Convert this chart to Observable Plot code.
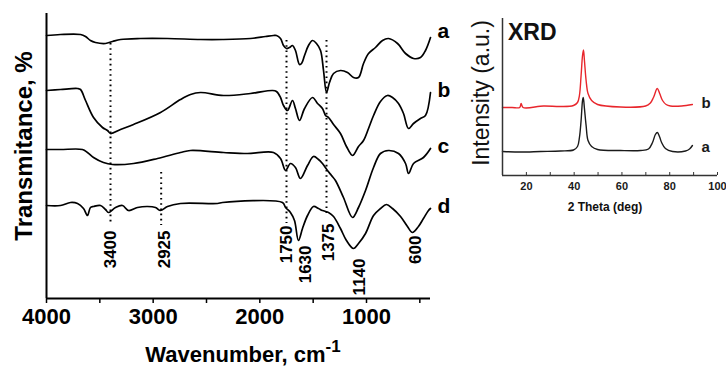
<!DOCTYPE html>
<html><head><meta charset="utf-8">
<script src="https://cdn.jsdelivr.net/npm/d3@7"></script>
<script src="https://cdn.jsdelivr.net/npm/@observablehq/plot@0.6"></script>
<style>
html,body{margin:0;padding:0;background:#fff;}
#wrap{position:relative;width:726px;height:366px;overflow:hidden;font-family:"Liberation Sans",Arial,sans-serif;}
#main{position:absolute;left:0;top:0;width:470px;height:366px;}
#inset{position:absolute;left:460px;top:0;width:266px;height:220px;}
svg{overflow:visible;}
</style></head><body><div id="wrap"><div id="main"></div><div id="inset"></div></div>
<script>
const FONT = "Liberation Sans, Arial, Helvetica, sans-serif";

// ---- FTIR spectra: [wavenumber cm-1, transmittance (arb., offset)] ----
const specA = [[4000,263],[3869,264],[3681,264],[3634,262],[3588,258],[3541,256],[3447,255],[3381,257],[3306,259],[3119,260],[2866,260],[2556,259],[2350,259],[2088,260],[1947,262],[1872,263],[1844,263],[1806,260],[1778,253],[1750,250],[1722,251],[1694,253],[1666,248],[1628,234],[1609,235],[1581,243],[1544,253],[1506,258],[1469,255],[1431,248],[1403,228],[1375,206],[1347,216],[1309,225],[1244,228],[1178,226],[1122,221],[1075,221],[1028,235],[981,245],[916,251],[850,258],[794,260],[709,255],[634,245],[559,240],[494,241],[447,248],[400,261]];
const specB = [[4000,208],[3869,209],[3709,210],[3681,209],[3634,198],[3559,181],[3475,171],[3428,168],[3400,165],[3306,169],[3184,174],[2931,186],[2744,199],[2650,204],[2556,206],[2341,203],[2088,205],[1881,208],[1844,207],[1806,201],[1778,193],[1741,188],[1694,198],[1666,190],[1628,178],[1581,190],[1506,201],[1459,195],[1413,190],[1384,183],[1356,181],[1309,174],[1244,165],[1188,152],[1131,143],[1075,152],[1028,158],[981,170],[934,183],[869,197],[803,203],[756,201],[700,195],[653,185],[606,170],[559,175],[494,180],[447,183],[400,206]];
const specC = [[4000,149],[3869,149],[3663,149],[3616,146],[3559,141],[3466,136],[3381,134],[3184,135],[2959,140],[2744,146],[2650,148],[2341,146],[2116,145],[1872,146],[1806,140],[1759,128],[1713,135],[1666,131],[1619,120],[1553,133],[1497,142],[1450,139],[1413,135],[1366,128],[1328,123],[1291,118],[1216,101],[1131,81],[1075,91],[1009,108],[934,131],[869,145],[794,148],[700,145],[634,135],[606,125],[559,135],[466,141],[400,150]];
const specD = [[4000,93],[3869,93],[3775,96],[3709,95],[3653,90],[3616,83],[3588,91],[3559,92],[3494,93],[3447,89],[3419,86],[3353,91],[3288,93],[3231,88],[3147,91],[3053,92],[2978,91],[2931,88],[2866,92],[2744,95],[2397,95],[2350,96],[1788,96],[1759,91],[1713,86],[1675,78],[1638,58],[1600,70],[1553,83],[1497,92],[1450,90],[1413,88],[1356,86],[1309,82],[1244,70],[1188,58],[1122,50],[1075,55],[1009,65],[934,83],[869,90],[813,94],[756,90],[681,82],[616,72],[569,66],[513,72],[466,80],[419,88],[400,90]];
const seriesNames = ["a","b","c","d"];
const letterY = [267, 208, 152, 92];

// marked bands (dotted guides)
const markWn = [3400, 2925, 1750, 1375];
const markTop = [255, 126, 258, 258];
const markBottom = [73, 73, 75, 85];

// band labels: text, drawn position (cm-1), top of label
const bandText = ["3400","2925","1750","1630","1375","1140","600"];
const bandPos  = [3400, 2894, 1750, 1572, 1356, 1066, 541];
const bandTop  = [68, 68, 73, 53, 75, 40, 63];

const xTicks = d3.range(500, 4001, 500);

// ---- XRD inset: [2theta deg, intensity (arb.)] ----
const xrdA = [[10,24],[17.5,23.5],[25.9,24],[34.3,24.5],[39.7,25.5],[41.4,29],[42.2,38],[42.9,55],[43.5,75],[43.8,78],[44.3,67],[45.0,50],[45.8,35],[47.3,29],[49.8,26],[59.4,25],[67.8,25],[71.1,26.5],[72.8,33],[74.0,41],[74.8,43],[75.7,39],[76.6,33],[78.2,27],[81.2,24],[86.6,24.5],[88.3,26.5],[89.5,30]];
const xrdB = [[10,68],[14,68],[17.2,68],[17.8,72],[18.6,68],[27.2,69.5],[34.3,69],[39.7,70],[41.4,73],[42.2,80],[42.9,100],[43.5,120],[43.9,125.5],[44.3,115],[45.0,95],[45.8,82],[47.3,75],[49.8,71],[59.4,68.5],[69.9,69.5],[71.9,72.5],[73.2,78],[74.8,87],[75.8,82],[77,75],[78.5,71],[80.3,69.5],[85,69.5],[89.5,71]];
const xrdNames = ["a","b"];
const xrdLetterY = [28, 72];
const xrdTicks = d3.range(10, 101, 10);
const xrdLabelTicks = [20, 40, 60, 80, 100];

// ---- build rows ----
const specs = [specA, specB, specC, specD];
const ftirRows = specs.flatMap((s, k) => s.map(([wn, t]) => ({wn, t, name: seriesNames[k]})));
const markRows = markWn.map((wn, i) => ({wn, y1: markTop[i], y2: markBottom[i]}));
const bandRows = bandText.map((text, i) => ({text, pos: bandPos[i], top: bandTop[i]}));
const letterRows = seriesNames.map((name, i) => ({name, wn: 400, t: letterY[i]}));

const main = Plot.plot({
  width: 470, height: 366,
  marginLeft: 46, marginRight: 40, marginTop: 13, marginBottom: 68,
  x: {domain: [4000, 400]},
  y: {domain: [0, 285], axis: null},
  style: {fontFamily: FONT, background: "white", overflow: "visible"},
  marks: [
    Plot.ruleX(markRows, {x: "wn", y1: "y1", y2: "y2", stroke: "black", strokeWidth: 2, strokeDasharray: "1.6,3.6"}),
    Plot.line(ftirRows, {x: "wn", y: "t", z: "name", stroke: "black", strokeWidth: 1.7, curve: "catmull-rom"}),
    Plot.text(bandRows, {x: "pos", y: "top", text: "text", rotate: -90, textAnchor: "end", fontSize: 17, fontWeight: "bold", fill: "black"}),
    Plot.text(letterRows, {x: "wn", y: "t", text: "name", dx: 7, textAnchor: "start", fontSize: 21, fontWeight: "bold", fill: "black"}),
    Plot.ruleX([4000], {stroke: "black", strokeWidth: 2}),
    Plot.ruleY([0], {stroke: "black", strokeWidth: 2}),
    Plot.axisX({ticks: xTicks, tickFormat: d => d % 1000 === 0 ? String(d) : "", tickSize: 5, tickPadding: 5, fontSize: 22, fontWeight: "bold", label: null, strokeWidth: 1.5, color: "black"})
  ]
});
const ms = d3.select(main);
ms.append("text")
  .attr("transform", "translate(32,146) rotate(-90)")
  .attr("text-anchor", "middle")
  .attr("font-family", FONT).attr("font-size", 24).attr("font-weight", "bold")
  .text("Transmitance, %");
const xt = ms.append("text")
  .attr("x", 243).attr("y", 362)
  .attr("text-anchor", "middle")
  .attr("font-family", FONT).attr("font-size", 22).attr("font-weight", "bold");
xt.append("tspan").text("Wavenumber, cm");
xt.append("tspan").attr("dy", -10).attr("font-size", 17).text("-1");
document.getElementById("main").appendChild(main);

const xrdRowsA = xrdA.map(([tt, i]) => ({tt, i}));
const xrdRowsB = xrdB.map(([tt, i]) => ({tt, i}));
const xrdLetters = xrdNames.map((name, k) => ({name, tt: 90, i: xrdLetterY[k]}));

const inset = Plot.plot({
  width: 266, height: 220,
  marginLeft: 42, marginRight: 9, marginTop: 18, marginBottom: 45,
  x: {domain: [10, 100]},
  y: {domain: [0, 157], axis: null},
  style: {fontFamily: FONT, background: "transparent", overflow: "visible"},
  marks: [
    Plot.line(xrdRowsA, {x: "tt", y: "i", stroke: "#1a1a1a", strokeWidth: 1.4, curve: "catmull-rom"}),
    Plot.line(xrdRowsB, {x: "tt", y: "i", stroke: "#e8262c", strokeWidth: 1.4, curve: "catmull-rom"}),
    Plot.text(xrdLetters, {x: "tt", y: "i", text: "name", dx: 8, textAnchor: "start", fontSize: 15, fontWeight: "bold", fill: "#1a1a1a"}),
    Plot.ruleX([10], {stroke: "#333", strokeWidth: 1.5}),
    Plot.ruleY([0], {stroke: "#333", strokeWidth: 1.5}),
    Plot.axisX({ticks: xrdTicks, tickSize: -3, tickFormat: () => "", label: null, color: "#333"}),
    Plot.axisX({ticks: xrdLabelTicks, tickSize: 0, tickPadding: 7, fontSize: 11, fontWeight: "bold", label: null, color: "#1a1a1a"})
  ]
});
const is = d3.select(inset);
is.append("text").attr("x", 48).attr("y", 40)
  .attr("text-anchor", "start")
  .attr("font-family", FONT).attr("font-size", 23).attr("font-weight", "bold").attr("fill", "#111").text("XRD");
is.append("text")
  .attr("transform", "translate(29,93) rotate(-90)")
  .attr("text-anchor", "middle")
  .attr("font-family", FONT).attr("font-size", 23).attr("fill", "#111")
  .text("Intensity (a.u.)");
is.append("text").attr("x", 145).attr("y", 211)
  .attr("text-anchor", "middle")
  .attr("font-family", FONT).attr("font-size", 12).attr("font-weight", "bold").attr("fill", "#111")
  .text("2 Theta (deg)");
document.getElementById("inset").appendChild(inset);
</script>
</body></html>
